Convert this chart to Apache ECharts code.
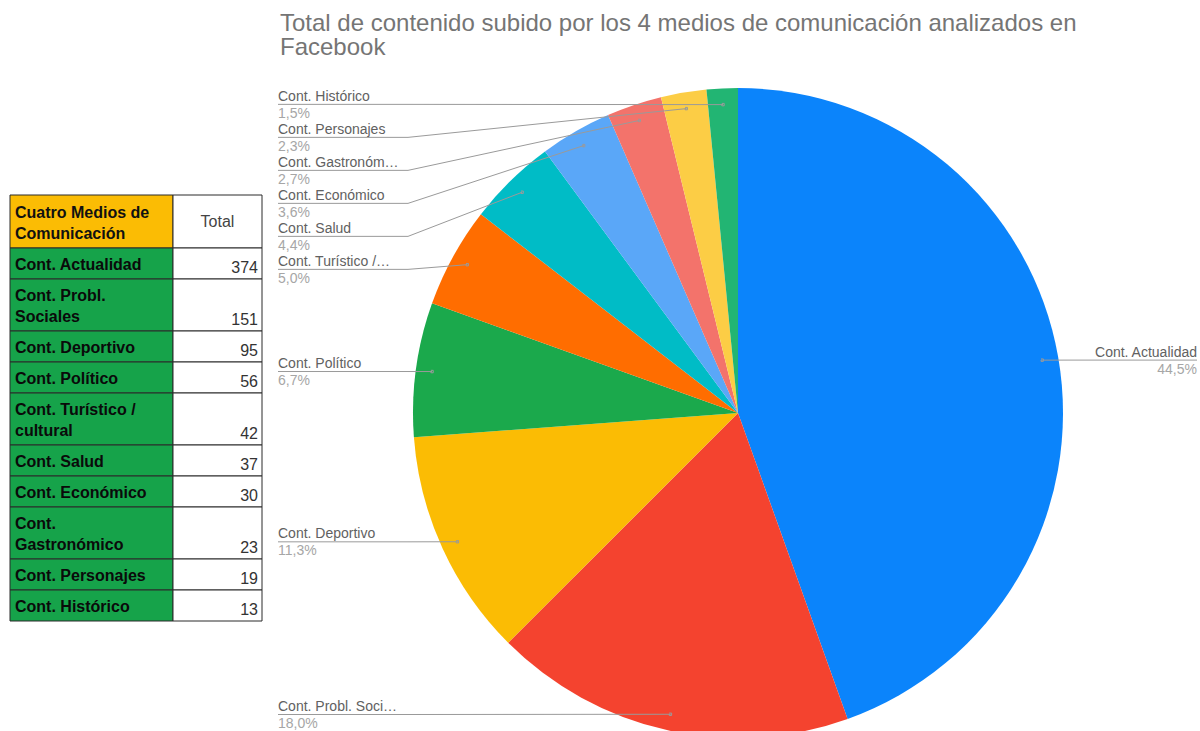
<!DOCTYPE html>
<html>
<head>
<meta charset="utf-8">
<script src="https://cdn.jsdelivr.net/npm/echarts@6/dist/echarts.min.js"></script>
<style>
html,body{margin:0;padding:0;background:#ffffff;}
#chart{width:1200px;height:731px;}
</style>
</head>
<body>
<div id="chart"></div>
<script>
// ---- data ----
const categories = [
  'Cont. Actualidad',
  'Cont. Probl. Sociales',
  'Cont. Deportivo',
  'Cont. Político',
  'Cont. Turístico / cultural',
  'Cont. Salud',
  'Cont. Económico',
  'Cont. Gastronómico',
  'Cont. Personajes',
  'Cont. Histórico'
];
const values = [374, 151, 95, 56, 42, 37, 30, 23, 19, 13];
const tableHeader = ['Cuatro Medios de Comunicación', 'Total'];
const chartTitle = 'Total de contenido subido por los 4 medios de comunicación analizados en\nFacebook';

// ---- styles / layout ----
const sliceColors = ['#0b84fb', '#f4432f', '#fbbc04', '#1ba94c', '#ff6d00',
                     '#00bcc6', '#5aa7f8', '#f3736b', '#fccd45', '#22b573'];
const CX = 738, CY = 413, R = 325;
const LABEL_LEFT_X = 278, LABEL_RIGHT_X = 1197, LABEL_MAX_W = 121, BEND_W = 130;
const LABEL_FONT = '14px "Liberation Sans", Arial, sans-serif';
const tableX = 10, tableY = 195, col1W = 163, col2W = 89, headerH = 53;
const TABLE_FONT_B = 'bold 16px "Liberation Sans", Arial, sans-serif';
const TABLE_FONT = '16px "Liberation Sans", Arial, sans-serif';
const TABLE_WRAP_W = 146;

const total = values.reduce((a, b) => a + b, 0);
const fmtPct = v => (v / total * 100).toFixed(1).replace('.', ',') + '%';

// text measurement helpers
const measureCtx = document.createElement('canvas').getContext('2d');
function wrapWords(text, font, maxW) {
  measureCtx.font = font;
  const words = text.split(' ');
  const lines = [];
  let cur = '';
  words.forEach(w => {
    const test = cur ? cur + ' ' + w : w;
    if (cur && measureCtx.measureText(test).width > maxW) {
      lines.push(cur);
      cur = w;
    } else {
      cur = test;
    }
  });
  if (cur) lines.push(cur);
  return lines;
}
function fitLabel(text, font, maxW) {
  measureCtx.font = font;
  if (measureCtx.measureText(text).width <= maxW) return text;
  for (let k = text.length - 1; k > 0; k--) {
    const t = text.slice(0, k).replace(/\s+$/, '') + '…';
    if (measureCtx.measureText(t).width <= maxW) return t;
  }
  return '…';
}

// ---- table as graphic elements ----
const graphics = [];
const borderColor = '#2b2b2b';
const headerLines = wrapWords(tableHeader[0], TABLE_FONT_B, TABLE_WRAP_W);
graphics.push({
  type: 'rect', shape: {x: tableX, y: tableY, width: col1W, height: headerH},
  style: {fill: '#fbbc04', stroke: borderColor, lineWidth: 1}
});
graphics.push({
  type: 'rect', shape: {x: tableX + col1W, y: tableY, width: col2W, height: headerH},
  style: {fill: '#ffffff', stroke: borderColor, lineWidth: 1}
});
graphics.push({
  type: 'text', x: tableX + 5, y: tableY + headerH - 4,
  style: {text: headerLines.join('\n'), lineHeight: 21, font: TABLE_FONT_B, fill: '#111',
          verticalAlign: 'bottom', align: 'left'}
});
graphics.push({
  type: 'text', x: tableX + col1W + col2W / 2, y: tableY + headerH / 2,
  style: {text: tableHeader[1], font: TABLE_FONT, fill: '#444',
          verticalAlign: 'middle', align: 'center'}
});
let yy = tableY + headerH;
categories.forEach((name, i) => {
  const lines = wrapWords(name, TABLE_FONT_B, TABLE_WRAP_W);
  const h = lines.length > 1 ? 52 : 31;
  graphics.push({
    type: 'rect', shape: {x: tableX, y: yy, width: col1W, height: h},
    style: {fill: '#16a34a', stroke: borderColor, lineWidth: 1}
  });
  graphics.push({
    type: 'rect', shape: {x: tableX + col1W, y: yy, width: col2W, height: h},
    style: {fill: '#ffffff', stroke: borderColor, lineWidth: 1}
  });
  graphics.push({
    type: 'text', x: tableX + 5, y: yy + h - 4,
    style: {text: lines.join('\n'), lineHeight: 21, font: TABLE_FONT_B, fill: '#0a0a0a',
            verticalAlign: 'bottom', align: 'left'}
  });
  graphics.push({
    type: 'text', x: tableX + col1W + col2W - 4, y: yy + h - 4,
    style: {text: String(values[i]), font: TABLE_FONT, fill: '#333',
            verticalAlign: 'bottom', align: 'right'}
  });
  yy += h;
});

const pieData = categories.map((n, i) => ({name: n, value: values[i]}));
const pieBase = {
  type: 'pie',
  left: 0, top: 0, right: 0, bottom: 0,
  center: [CX, CY],
  radius: R,
  startAngle: 90,
  clockwise: true,
  data: pieData
};

const chart = echarts.init(document.getElementById('chart'), null, {renderer: 'svg'});
chart.setOption({
  backgroundColor: '#ffffff',
  animation: false,
  title: {
    text: chartTitle,
    left: 275, top: 5,
    textStyle: {fontFamily: '"Liberation Sans", Arial', fontSize: 24, fontWeight: 'normal',
                color: '#757575', lineHeight: 24.5}
  },
  graphic: graphics,
  series: [
    Object.assign({}, pieBase, {
      name: 'slices',
      z: 1,
      color: sliceColors,
      itemStyle: {borderWidth: 0},
      label: {show: false},
      labelLine: {show: false},
      emphasis: {disabled: true}
    }),
    Object.assign({}, pieBase, {
      name: 'labels',
      z: 5,
      silent: true,
      itemStyle: {color: 'rgba(0,0,0,0)', borderWidth: 0},
      emphasis: {disabled: true},
      avoidLabelOverlap: true,
      label: {
        show: true,
        position: 'outside',
        alignTo: 'none',
        formatter: p => '{n|' + fitLabel(p.name, LABEL_FONT, LABEL_MAX_W) + '}\n{p|' + fmtPct(p.value) + '}',
        rich: {
          n: {fontFamily: '"Liberation Sans", Arial', fontSize: 14, color: '#616161', lineHeight: 17},
          p: {fontFamily: '"Liberation Sans", Arial', fontSize: 14, color: '#a6a6a6', lineHeight: 17}
        }
      },
      labelLine: {
        show: true,
        length: -16,
        length2: 10,
        smooth: false,
        lineStyle: {color: '#9a9a9a', width: 1, opacity: 1}
      },
      labelLayout: function (p) {
        const pts = p.labelLinePoints;
        if (!pts) return {};
        const e = pts[0];
        const ax = CX + (e[0] - CX) * 0.95;
        const ay = CY + (e[1] - CY) * 0.95;
        const left = e[0] < CX;
        const y = p.labelRect.y + p.labelRect.height / 2;
        const lx = left ? LABEL_LEFT_X : LABEL_RIGHT_X;
        const bx = left ? lx + BEND_W : lx - BEND_W;
        // small square around the anchor to mimic the anchor dot
        const d = 1.2;
        return {
          x: lx, y: y,
          align: left ? 'left' : 'right',
          verticalAlign: 'middle',
          labelLinePoints: [
            [ax - d, ay - d], [ax + d, ay - d], [ax + d, ay + d], [ax - d, ay + d], [ax - d, ay],
            [ax, ay], [bx, y], [lx, y]
          ]
        };
      }
    })
  ]
});
</script>
</body>
</html>
